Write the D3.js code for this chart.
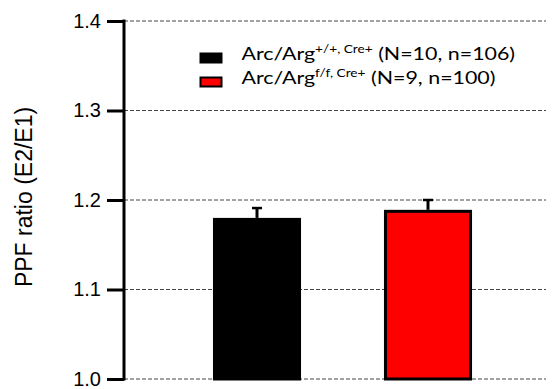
<!DOCTYPE html>
<html><head><meta charset="utf-8">
<script src="https://cdn.jsdelivr.net/npm/d3@7"></script>
<style>body{margin:0;background:#fff}svg{display:block}</style>
</head><body>
<script>
const categories = ["Arc/Arg+/+, Cre+", "Arc/Argf/f, Cre+"];
const means = [1.18, 1.189];
const sems = [0.011, 0.011];
const legendMain = ["Arc/Arg", "Arc/Arg"];
const legendSup = ["+/+, Cre+", "f/f, Cre+"];
const legendTail = [" (N=10, n=106)", " (N=9, n=100)"];
const fills = ["#000000", "#ff0000"];
const yTicks = [1.0, 1.1, 1.2, 1.3, 1.4];

const W = 552, H = 389;
const svg = d3.select("body").append("svg").attr("width", W).attr("height", H);

const y = d3.scaleLinear().domain([1.0, 1.4]).range([379, 21]);
const x = d3.scaleBand().domain(categories).range([171.5, 513.5])
  .paddingInner(0.485).paddingOuter(0.2425);
const axisX = 124;

// gridlines
svg.append("g").selectAll("line").data(yTicks).join("line")
  .attr("x1", axisX).attr("x2", 546)
  .attr("y1", d => y(d)).attr("y2", d => y(d))
  .attr("stroke", "#444").attr("stroke-width", 1)
  .attr("stroke-dasharray", "4,2");

// bars
svg.append("g").selectAll("rect").data(categories).join("rect")
  .attr("x", (d) => x(d) + 1.5)
  .attr("width", x.bandwidth() - 3)
  .attr("y", (d, i) => y(means[i]) + 1.5)
  .attr("height", (d, i) => y(1.0) - y(means[i]) - 1.5)
  .attr("fill", (d, i) => fills[i])
  .attr("stroke", "#000").attr("stroke-width", 3);

// error bars
const eb = svg.append("g");
categories.forEach((c, i) => {
  const cx = x(c) + x.bandwidth() / 2;
  eb.append("line").attr("x1", cx).attr("x2", cx)
    .attr("y1", y(means[i])).attr("y2", y(means[i] + sems[i]))
    .attr("stroke", "#000").attr("stroke-width", 3);
  eb.append("line").attr("x1", cx - 5).attr("x2", cx + 5)
    .attr("y1", y(means[i] + sems[i])).attr("y2", y(means[i] + sems[i]))
    .attr("stroke", "#000").attr("stroke-width", 2.5);
});

// y axis
const yAxis = d3.axisLeft(y).tickValues(yTicks).tickFormat(d3.format(".1f"))
  .tickSize(17).tickPadding(6);
const ga = svg.append("g").attr("transform", `translate(${axisX},0)`).call(yAxis);
ga.select(".domain").attr("stroke", "#000").attr("stroke-width", 3)
  .attr("d", `M0,${y(1.4)-1.5}V${y(1.0)+1.5}`);
ga.selectAll(".tick line").attr("stroke", "#000").attr("stroke-width", 3);
ga.selectAll(".tick text").attr("font-family", "'Liberation Sans', Arial, sans-serif")
  .attr("font-size", 20).attr("fill", "#000");

// y title
svg.append("text")
  .attr("transform", `translate(32,197) rotate(-90)`)
  .attr("text-anchor", "middle")
  .attr("font-family", "'Liberation Sans', Arial, sans-serif")
  .attr("font-size", 23)
  .text("PPF ratio (E2/E1)");

// legend
const lg = svg.append("g");
categories.forEach((c, i) => {
  const yy = 53 + i * 24;
  lg.append("rect").attr("x", 200.5).attr("y", yy + 0.5).attr("width", 21).attr("height", 9)
    .attr("fill", fills[i]).attr("stroke", "#000").attr("stroke-width", 2);
  const t = lg.append("text")
    .attr("transform", `translate(241.5,${yy + 6.5}) scale(1.19,1)`)
    .attr("font-family", "Lato, 'Open Sans', sans-serif").attr("font-size", 18).attr("fill", "#000");
  t.append("tspan").text(legendMain[i]);
  t.append("tspan").attr("font-size", 11.5).attr("dy", -7).text(legendSup[i]);
  t.append("tspan").attr("dy", 7).text(legendTail[i]);
});
</script>
</body></html>
